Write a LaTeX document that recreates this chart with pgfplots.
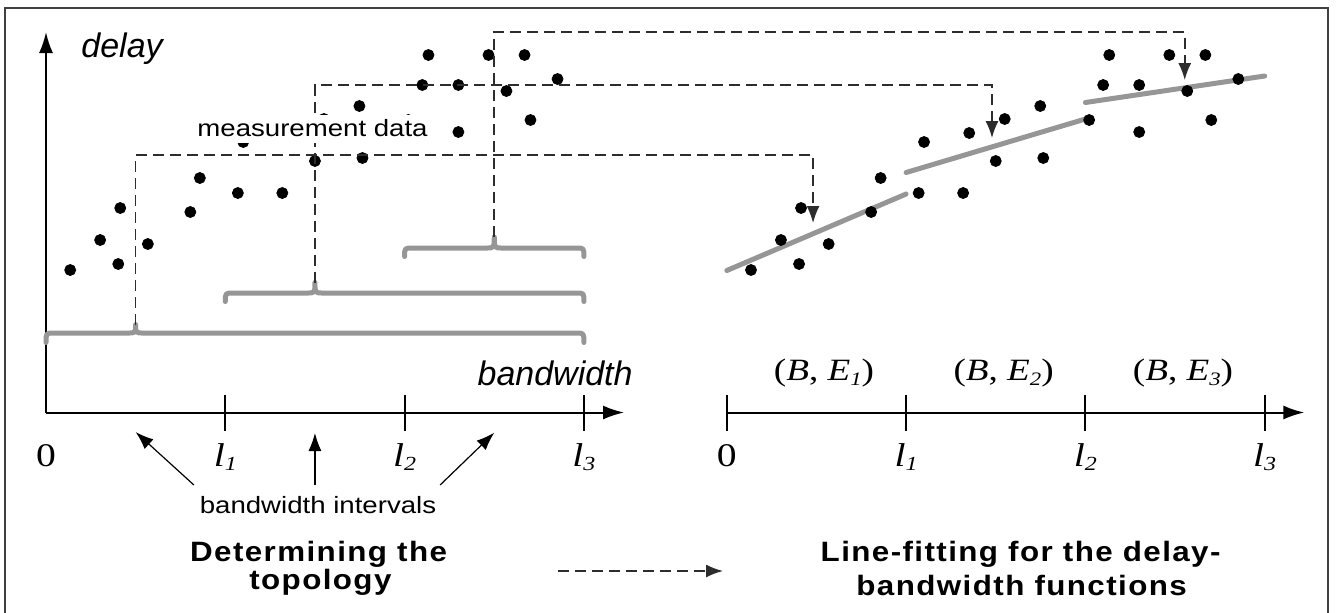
\documentclass[border=0pt]{standalone}
\usepackage{fontspec}
\usepackage{pgfplots}
\usepackage{pgfplotstable}
\pgfplotsset{compat=1.18}
\usetikzlibrary{arrows.meta}
\newfontfamily\sansn{Liberation Sans}
\newfontfamily\sansw{Liberation Sans}[FakeStretch=1.17]
\newfontfamily\serifw{Liberation Serif}[FakeStretch=1.2]
\newfontfamily\titlefont{Liberation Sans}[LetterSpace=5,FakeStretch=1.12]
\definecolor{fitgray}{RGB}{150,150,150}
\definecolor{dashc}{RGB}{45,45,45}
\newcommand{\lab}[1]{{\serifw\fontsize{16.5}{18}\selectfont\itshape l\raisebox{-2pt}{\fontsize{10}{11}\selectfont #1}}}
\newcommand{\zer}{{\serifw\fontsize{16.5}{18}\selectfont 0}}
\newcommand{\be}[1]{{\serifw\fontsize{15.5}{18}\selectfont (\textit{B}, \textit{E}\raisebox{-2.2pt}{\fontsize{9.5}{11}\selectfont\itshape #1})}}

% measurement data: bandwidth (in units of l) and delay (arbitrary units)
\pgfplotstableread{
x y
0.135 142.5
0.302 172.5
0.403 148.5
0.414 204.5
0.568 168.5
0.805 200.5
0.858 234.5
1.070 219.5
1.100 270.5
1.318 219.5
1.352 279.5
1.500 251.5
1.550 293.5
1.748 306.5
1.765 254.5
2.021 292.5
2.099 327.5
2.133 357.5
2.300 327.5
2.300 280.5
2.468 357.5
2.568 321.5
2.669 357.5
2.702 292.5
2.853 333.5
}\dotsdata

\pgfplotsset{
  myaxis/.style={
    x=89.65pt, y=0.5pt,
    xmin=0, ymin=0, ymax=380.5,
    enlargelimits=false, clip=false,
    ytick=\empty,
    tick align=center,
    major tick length=18pt,
    tick style={black, line width=1pt},
    axis line style={line width=1pt},
    x axis line style={-{Latex[length=10.5pt,width=7pt]}},
    y axis line style={-{Latex[length=10.5pt,width=7pt]}},
    xticklabel style={anchor=base, yshift=-17.75pt, inner sep=0pt},
  },
  dots/.style={only marks, mark=*, mark size=2.75pt, black},
}
\tikzset{
  bracestyle/.style={draw=fitgray, line width=2.5pt, line cap=round, line join=round},
  dasharr/.style={draw=dashc, line width=0.8pt, dash pattern=on 5.5pt off 3pt, -{Latex[length=8.5pt,width=6.5pt]}},
  smallarr/.style={draw=black, line width=0.6pt, -{Latex[length=9pt,width=6.5pt]}},
}

\begin{document}
\begin{tikzpicture}
\useasboundingbox (0,0) rectangle (668pt,-306pt);
\draw[line width=1pt, black!75] (2.5pt,-3.75pt) rectangle (664.2pt,-320pt);

% ---------------- left panel ----------------
\begin{axis}[myaxis, at={(23pt,-206.25pt)}, anchor=origin,
  axis x line*=bottom, axis y line*=left, xmax=3.224,
  xtick={1,2,3}, xticklabels={\lab{1},\lab{2},\lab{3}},
  extra x ticks={0}, extra x tick labels={\zer},
  extra x tick style={tick style={draw=none}}]
\addplot[dots] table {\dotsdata};
% braces
\draw[bracestyle] (axis cs:0,70) .. controls (axis cs:0,79.5) .. (axis cs:0.045,79.5)
  -- (axis cs:0.455,79.5) .. controls (axis cs:0.5,79.5) .. (axis cs:0.5,88)
  .. controls (axis cs:0.5,79.5) .. (axis cs:0.545,79.5)
  -- (axis cs:2.955,79.5) .. controls (axis cs:3,79.5) .. (axis cs:3,70);
\draw[bracestyle] (axis cs:1,111) .. controls (axis cs:1,119.5) .. (axis cs:1.045,119.5)
  -- (axis cs:1.455,119.5) .. controls (axis cs:1.5,119.5) .. (axis cs:1.5,130)
  .. controls (axis cs:1.5,119.5) .. (axis cs:1.545,119.5)
  -- (axis cs:2.955,119.5) .. controls (axis cs:3,119.5) .. (axis cs:3,111);
\draw[bracestyle] (axis cs:2,156) .. controls (axis cs:2,164.5) .. (axis cs:2.045,164.5)
  -- (axis cs:2.455,164.5) .. controls (axis cs:2.5,164.5) .. (axis cs:2.5,175.5)
  .. controls (axis cs:2.5,164.5) .. (axis cs:2.545,164.5)
  -- (axis cs:2.955,164.5) .. controls (axis cs:3,164.5) .. (axis cs:3,156);
% arrows to the bandwidth intervals
\draw[smallarr] (axis cs:0.825,-72.5) -- (axis cs:0.5,-19.5);
\draw[smallarr] (axis cs:1.5,-72.5) -- (axis cs:1.5,-20.5);
\draw[smallarr] (axis cs:2.198,-72.5) -- (axis cs:2.5,-20.2);
\coordinate (b1) at (axis cs:0.5,88);
\coordinate (b2) at (axis cs:1.5,130);
\coordinate (b3) at (axis cs:2.5,175.5);
\coordinate (c1) at (axis cs:0.5,257.5);
\coordinate (c2) at (axis cs:1.5,327.5);
\coordinate (c3) at (axis cs:2.5,380.5);
\end{axis}

% ---------------- right panel ----------------
\begin{axis}[myaxis, at={(363.4pt,-206.25pt)}, anchor=origin,
  axis x line*=bottom, axis y line=none, xmax=3.221,
  xtick={0,1,2,3}, xticklabels={\zer,\lab{1},\lab{2},\lab{3}}]
\addplot[dots] table {\dotsdata};
\addplot[fitgray, line width=2.5pt, line cap=round] coordinates {(0,142) (1,218.5)};
\addplot[fitgray, line width=2.5pt, line cap=round] coordinates {(1,240) (2,293.5)};
\addplot[fitgray, line width=2.5pt, line cap=round] coordinates {(2,310) (3,336.5)};
\coordinate (e1) at (axis cs:0.481,189.5);
\coordinate (e2) at (axis cs:1.479,274.5);
\coordinate (e3) at (axis cs:2.554,332.5);
\coordinate (d1) at (axis cs:0.481,257.5);
\coordinate (d2) at (axis cs:1.479,327.5);
\coordinate (d3) at (axis cs:2.554,380.5);
\end{axis}

% dashed connections
\draw[dasharr] (b1) -- (c1) -- (d1) -- (e1);
\draw[dasharr] (b2) -- (c2) -- (d2) -- (e2);
\draw[dasharr] (b3) -- (c3) -- (d3) -- (e3);
\draw[dasharr] (279pt,-285.5pt) -- (361.5pt,-285.5pt);

% texts
\node[anchor=base west, inner sep=0pt] at (40.5pt,-28.5pt) {\sansn\itshape\fontsize{17}{20}\selectfont delay};
\node[anchor=base east, inner sep=0pt] at (316.5pt,-192.5pt) {\sansn\itshape\fontsize{17}{20}\selectfont bandwidth};
\node[anchor=base, inner sep=0pt] at (159pt,-256.5pt) {\sansw\fontsize{11.8}{14}\selectfont bandwidth intervals};
\node[anchor=base, inner sep=0pt] at (159.3pt,-280.85pt) {\titlefont\bfseries\fontsize{14}{16}\selectfont Determining the};
\node[anchor=base, inner sep=0pt] at (160.2pt,-294.75pt) {\titlefont\bfseries\fontsize{14}{16}\selectfont topology};
\node[anchor=base, inner sep=0pt] at (510.3pt,-280.85pt) {\titlefont\bfseries\fontsize{14}{16}\selectfont Line-fitting for the delay-};
\node[anchor=base, inner sep=0pt] at (510.8pt,-297.5pt) {\titlefont\bfseries\fontsize{14}{16}\selectfont bandwidth functions};
\node[anchor=base, inner sep=0pt] at (412pt,-190.35pt) {\be{1}};
\node[anchor=base, inner sep=0pt] at (501.8pt,-190.35pt) {\be{2}};
\node[anchor=base, inner sep=0pt] at (591.5pt,-190.35pt) {\be{3}};
\node[anchor=base west, fill=white, inner xsep=1.5pt, inner ysep=1.5pt, text height=9pt, text depth=2pt] at (97pt,-68pt) {\sansw\fontsize{11.8}{14}\selectfont measurement data};
\end{tikzpicture}
\end{document}
